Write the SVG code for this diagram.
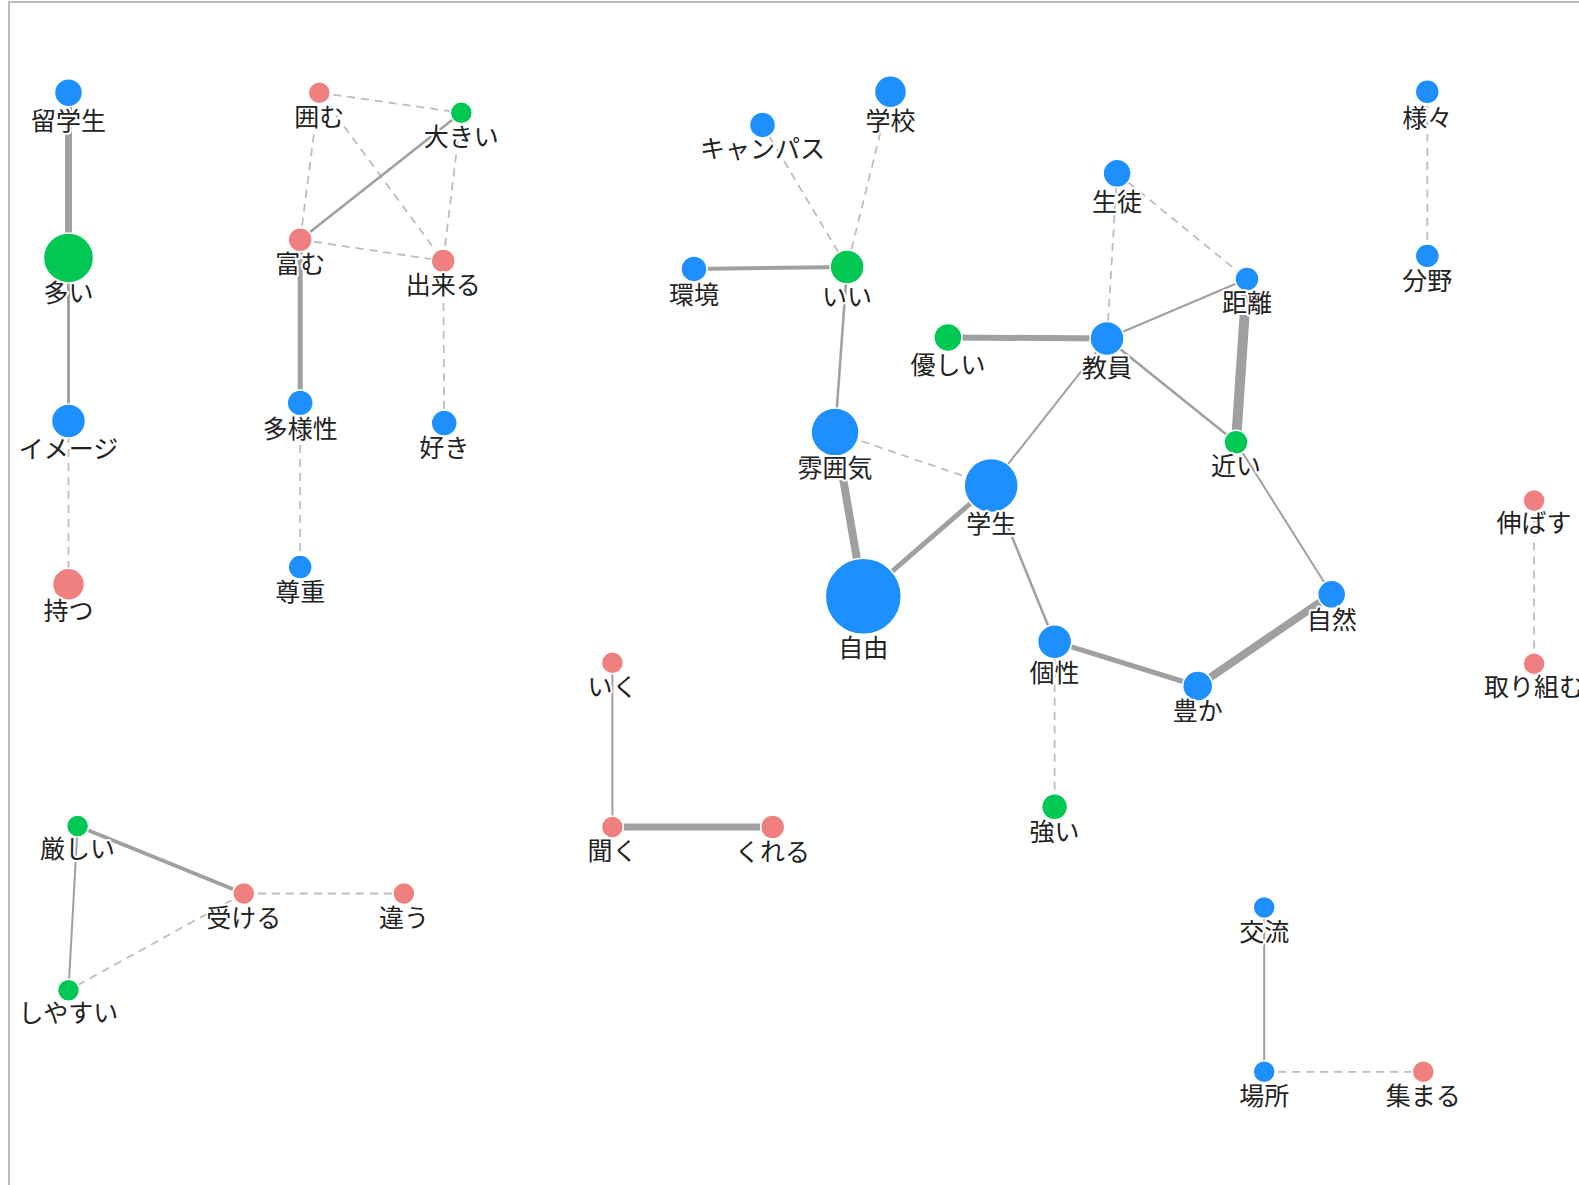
<svg xmlns="http://www.w3.org/2000/svg" width="1579" height="1185" viewBox="0 0 1579 1185">
<style>
.e{stroke:#a0a0a0;fill:none;stroke-linecap:butt}
.d{stroke:#bdbdbd;fill:none;stroke-width:1.8;stroke-dasharray:8 6}
.b{fill:#1e8fff;stroke:#fff;stroke-width:1.5}
.g{fill:#00c853;stroke:#fff;stroke-width:1.5}
.p{fill:#f08080;stroke:#fff;stroke-width:1.5}
text{font-family:"Noto Sans CJK JP","Noto Sans",sans-serif;font-size:25px;fill:#222;text-anchor:middle;stroke:#fff;stroke-width:4;stroke-linejoin:round;paint-order:stroke}
</style>
<rect x="0" y="0" width="1579" height="1185" fill="#fff"/>
<path d="M9 1185 V2 H1579" stroke="#bbb" stroke-width="2" fill="none"/>
<g id="connectors">
<line class="e" x1="68.5" y1="92.7" x2="68.5" y2="257.9" stroke-width="7"/>
<line class="e" x1="68.5" y1="257.9" x2="68.5" y2="421.1" stroke-width="3"/>
<line class="d" x1="68.5" y1="421.1" x2="68.5" y2="584.2"/>
<line class="d" x1="319.3" y1="92.7" x2="461.3" y2="112.8"/>
<line class="d" x1="319.3" y1="92.7" x2="300.2" y2="239.7"/>
<line class="d" x1="319.3" y1="92.7" x2="443.2" y2="260.9"/>
<line class="e" x1="461.3" y1="112.8" x2="300.2" y2="239.7" stroke-width="2.5"/>
<line class="d" x1="461.3" y1="112.8" x2="443.2" y2="260.9"/>
<line class="d" x1="300.2" y1="239.7" x2="443.2" y2="260.9"/>
<line class="e" x1="300.2" y1="239.7" x2="300.2" y2="402.9" stroke-width="5"/>
<line class="d" x1="443.2" y1="260.9" x2="444.2" y2="423.1"/>
<line class="d" x1="300.2" y1="402.9" x2="300.2" y2="567.1"/>
<line class="d" x1="762.5" y1="124.9" x2="847.1" y2="266.9"/>
<line class="d" x1="890.5" y1="91.7" x2="847.1" y2="266.9"/>
<line class="e" x1="694" y1="268.9" x2="847.1" y2="266.9" stroke-width="4"/>
<line class="e" x1="847.1" y1="266.9" x2="835.1" y2="432.1" stroke-width="2.5"/>
<line class="d" x1="835.1" y1="432.1" x2="991.2" y2="485.5"/>
<line class="e" x1="835.1" y1="432.1" x2="863.3" y2="596.3" stroke-width="8"/>
<line class="e" x1="863.3" y1="596.3" x2="991.2" y2="485.5" stroke-width="5"/>
<line class="e" x1="991.2" y1="485.5" x2="1107" y2="338.5" stroke-width="2"/>
<line class="e" x1="991.2" y1="485.5" x2="1054.6" y2="641.7" stroke-width="2.5"/>
<line class="e" x1="947.9" y1="337.4" x2="1107" y2="338.5" stroke-width="6"/>
<line class="d" x1="1117.1" y1="173.3" x2="1107" y2="338.5"/>
<line class="d" x1="1117.1" y1="173.3" x2="1247" y2="279"/>
<line class="e" x1="1107" y1="338.5" x2="1247" y2="279" stroke-width="2"/>
<line class="e" x1="1107" y1="338.5" x2="1236" y2="442.2" stroke-width="2.5"/>
<line class="e" x1="1247" y1="279" x2="1236" y2="442.2" stroke-width="10"/>
<line class="e" x1="1236" y1="442.2" x2="1331.7" y2="594.3" stroke-width="2"/>
<line class="e" x1="1331.7" y1="594.3" x2="1197.7" y2="686" stroke-width="8"/>
<line class="e" x1="1054.6" y1="641.7" x2="1197.7" y2="686" stroke-width="5"/>
<line class="d" x1="1054.6" y1="641.7" x2="1054.6" y2="806.8"/>
<line class="d" x1="1427.3" y1="91.7" x2="1427.3" y2="255.9"/>
<line class="d" x1="1534.1" y1="500.6" x2="1534.1" y2="663.8"/>
<line class="e" x1="612.4" y1="662.8" x2="612.4" y2="827" stroke-width="2"/>
<line class="e" x1="612.4" y1="827" x2="772.6" y2="827" stroke-width="7"/>
<line class="e" x1="77.6" y1="826" x2="243.8" y2="893.5" stroke-width="4"/>
<line class="e" x1="77.6" y1="826" x2="68.5" y2="990.2" stroke-width="2"/>
<line class="d" x1="243.8" y1="893.5" x2="403.9" y2="893.5"/>
<line class="d" x1="243.8" y1="893.5" x2="68.5" y2="990.2"/>
<line class="e" x1="1264.2" y1="907.6" x2="1264.2" y2="1071.8" stroke-width="2"/>
<line class="d" x1="1264.2" y1="1071.8" x2="1423.3" y2="1071.8"/>
</g>
<g id="n-ryugakusei"><circle class="b" cx="68.5" cy="92.7" r="14"/><text x="68.5" y="130">留学生</text></g>
<g id="n-ooi"><circle class="g" cx="68.5" cy="257.9" r="25"/><text x="68.5" y="302">多い</text></g>
<g id="n-image"><circle class="b" cx="68.5" cy="421.1" r="17"/><text x="68.5" y="458">イメージ</text></g>
<g id="n-motsu"><circle class="p" cx="68.5" cy="584.2" r="16"/><text x="68.5" y="620">持つ</text></g>
<g id="n-kakomu"><circle class="p" cx="319.3" cy="92.7" r="11"/><text x="319.3" y="126">囲む</text></g>
<g id="n-ookii"><circle class="g" cx="461.3" cy="112.8" r="11"/><text x="461.3" y="146">大きい</text></g>
<g id="n-tomu"><circle class="p" cx="300.2" cy="239.7" r="12"/><text x="300.2" y="273">富む</text></g>
<g id="n-dekiru"><circle class="p" cx="443.2" cy="260.9" r="12"/><text x="443.2" y="294">出来る</text></g>
<g id="n-tayousei"><circle class="b" cx="300.2" cy="402.9" r="13"/><text x="300.2" y="438">多様性</text></g>
<g id="n-suki"><circle class="b" cx="444.2" cy="423.1" r="13"/><text x="444.2" y="457">好き</text></g>
<g id="n-sonchou"><circle class="b" cx="300.2" cy="567.1" r="12"/><text x="300.2" y="601">尊重</text></g>
<g id="n-campus"><circle class="b" cx="762.5" cy="124.9" r="13"/><text x="762.5" y="158">キャンパス</text></g>
<g id="n-gakkou"><circle class="b" cx="890.5" cy="91.7" r="16"/><text x="890.5" y="130">学校</text></g>
<g id="n-kankyou"><circle class="b" cx="694" cy="268.9" r="13"/><text x="694" y="304">環境</text></g>
<g id="n-ii"><circle class="g" cx="847.1" cy="266.9" r="17"/><text x="847.1" y="306">いい</text></g>
<g id="n-yasashii"><circle class="g" cx="947.9" cy="337.4" r="14"/><text x="947.9" y="374">優しい</text></g>
<g id="n-funiki"><circle class="b" cx="835.1" cy="432.1" r="24"/><text x="835.1" y="477">雰囲気</text></g>
<g id="n-gakusei"><circle class="b" cx="991.2" cy="485.5" r="27"/><text x="991.2" y="533">学生</text></g>
<g id="n-jiyuu"><circle class="b" cx="863.3" cy="596.3" r="38"/><text x="863.3" y="657">自由</text></g>
<g id="n-seito"><circle class="b" cx="1117.1" cy="173.3" r="14"/><text x="1117.1" y="211">生徒</text></g>
<g id="n-kyouin"><circle class="b" cx="1107" cy="338.5" r="17"/><text x="1107" y="377">教員</text></g>
<g id="n-kyori"><circle class="b" cx="1247" cy="279" r="12"/><text x="1247" y="312">距離</text></g>
<g id="n-chikai"><circle class="g" cx="1236" cy="442.2" r="12"/><text x="1236" y="475">近い</text></g>
<g id="n-shizen"><circle class="b" cx="1331.7" cy="594.3" r="14"/><text x="1331.7" y="629">自然</text></g>
<g id="n-kosei"><circle class="b" cx="1054.6" cy="641.7" r="17"/><text x="1054.6" y="682">個性</text></g>
<g id="n-yutaka"><circle class="b" cx="1197.7" cy="686" r="15"/><text x="1197.7" y="720">豊か</text></g>
<g id="n-tsuyoi"><circle class="g" cx="1054.6" cy="806.8" r="13"/><text x="1054.6" y="841">強い</text></g>
<g id="n-samazama"><circle class="b" cx="1427.3" cy="91.7" r="12"/><text x="1427.3" y="127">様々</text></g>
<g id="n-bunya"><circle class="b" cx="1427.3" cy="255.9" r="12"/><text x="1427.3" y="290">分野</text></g>
<g id="n-nobasu"><circle class="p" cx="1534.1" cy="500.6" r="11"/><text x="1534.1" y="532">伸ばす</text></g>
<g id="n-torikumu"><circle class="p" cx="1534.1" cy="663.8" r="11"/><text x="1534.1" y="696">取り組む</text></g>
<g id="n-iku"><circle class="p" cx="612.4" cy="662.8" r="11"/><text x="612.4" y="696">いく</text></g>
<g id="n-kiku"><circle class="p" cx="612.4" cy="827" r="11"/><text x="612.4" y="860">聞く</text></g>
<g id="n-kureru"><circle class="p" cx="772.6" cy="827" r="12"/><text x="772.6" y="861">くれる</text></g>
<g id="n-kibishii"><circle class="g" cx="77.6" cy="826" r="11"/><text x="77.6" y="858">厳しい</text></g>
<g id="n-ukeru"><circle class="p" cx="243.8" cy="893.5" r="11"/><text x="243.8" y="927">受ける</text></g>
<g id="n-chigau"><circle class="p" cx="403.9" cy="893.5" r="11"/><text x="403.9" y="927">違う</text></g>
<g id="n-shiyasui"><circle class="g" cx="68.5" cy="990.2" r="11"/><text x="68.5" y="1022">しやすい</text></g>
<g id="n-kouryuu"><circle class="b" cx="1264.2" cy="907.6" r="11"/><text x="1264.2" y="941">交流</text></g>
<g id="n-basho"><circle class="b" cx="1264.2" cy="1071.8" r="11"/><text x="1264.2" y="1105">場所</text></g>
<g id="n-atsumaru"><circle class="p" cx="1423.3" cy="1071.8" r="11"/><text x="1423.3" y="1105">集まる</text></g>
</svg>
